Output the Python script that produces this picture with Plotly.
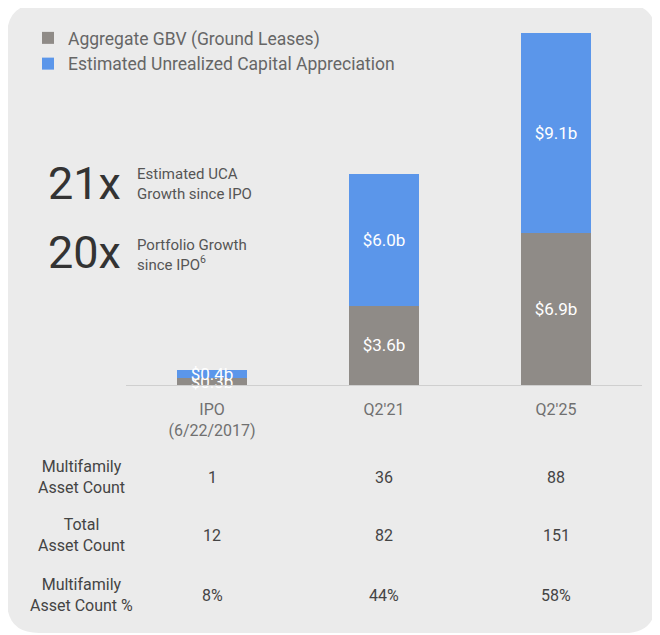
import plotly.graph_objects as go

# data
periods = ["IPO", "Q2'21", "Q2'25"]
period_labels = ["IPO<br>(6/22/2017)", "Q2'21", "Q2'25"]
gbv = [0.3, 3.6, 6.9]   # Aggregate GBV (Ground Leases), $b
uca = [0.4, 6.0, 9.1]   # Estimated Unrealized Capital Appreciation, $b

row_names = ["Multifamily<br>Asset Count", "Total<br>Asset Count", "Multifamily<br>Asset Count %"]
mf_count = ["1", "36", "88"]
total_count = ["12", "82", "151"]
mf_pct = ["8%", "44%", "58%"]
table_rows = [mf_count, total_count, mf_pct]

GRAY = "#8f8b87"
BLUE = "#5b96ea"
FONT = "Roboto"

# page draws the figure 8px in from the top-left, so page pixels are shifted
OFF = 8
W, H = 660, 635
L, R, T, B = 118, 26, 12, 258
pw, ph = W - L - R, H - T - B


def px_x(x):
    return (x - OFF - L) / pw


def px_y(y):
    return (H - B - (y - OFF)) / ph


def rounded_panel(x0, y0, x1, y1, r):
    rx, ry = r / pw, r / ph
    a0, a1 = px_x(x0), px_x(x1)
    b0, b1 = px_y(y1), px_y(y0)  # bottom, top in paper
    return (f"M{a0 + rx},{b1} L{a1 - rx},{b1} Q{a1},{b1} {a1},{b1 - ry} "
            f"L{a1},{b0 + ry} Q{a1},{b0} {a1 - rx},{b0} "
            f"L{a0 + rx},{b0} Q{a0},{b0} {a0},{b0 + ry} "
            f"L{a0},{b1 - ry} Q{a0},{b1} {a0 + rx},{b1} Z")


fig = go.Figure()
fig.add_trace(go.Bar(
    x=periods, y=gbv, name="Aggregate GBV (Ground Leases)",
    marker=dict(color=GRAY, line=dict(width=0)),
    text=[f"${v:.1f}b" for v in gbv], textposition="inside",
    insidetextanchor="middle", textfont=dict(color="white", size=17, family=FONT),
))
fig.add_trace(go.Bar(
    x=periods, y=uca, name="Estimated Unrealized Capital Appreciation",
    marker=dict(color=BLUE, line=dict(width=0)),
    text=[f"${v:.1f}b" for v in uca], textposition="inside",
    insidetextanchor="middle", textfont=dict(color="white", size=17, family=FONT),
))

fig.add_shape(type="path", xref="paper", yref="paper", layer="below",
              path=rounded_panel(7, 4, 656, 633, 32),
              fillcolor="#ebebeb", line=dict(width=0))

# headline multiples
fig.add_annotation(x=px_x(46), y=px_y(183), xref="paper", yref="paper", text="21x",
                   showarrow=False, xanchor="left", yanchor="middle",
                   font=dict(size=45, color="#333333", family=FONT))
fig.add_annotation(x=px_x(135), y=px_y(184), xref="paper", yref="paper",
                   text="Estimated UCA<br>Growth since IPO", align="left",
                   showarrow=False, xanchor="left", yanchor="middle",
                   font=dict(size=15, color="#555555", family=FONT))
fig.add_annotation(x=px_x(46), y=px_y(253), xref="paper", yref="paper", text="20x",
                   showarrow=False, xanchor="left", yanchor="middle",
                   font=dict(size=45, color="#333333", family=FONT))
fig.add_annotation(x=px_x(135), y=px_y(255), xref="paper", yref="paper",
                   text="Portfolio Growth<br>since IPO<sup>6</sup>", align="left",
                   showarrow=False, xanchor="left", yanchor="middle",
                   font=dict(size=15, color="#555555", family=FONT))

# table below the chart
row_y = [477, 535, 595]
for name, vals, yy in zip(row_names, table_rows, row_y):
    fig.add_annotation(x=px_x(81), y=px_y(yy), xref="paper", yref="paper", text=name,
                       showarrow=False, xanchor="center", yanchor="middle",
                       font=dict(size=16, color="#444444", family=FONT))
    for p, v in zip(periods, vals):
        fig.add_annotation(x=p, y=px_y(yy), xref="x", yref="paper", text=v,
                           showarrow=False, xanchor="center", yanchor="middle",
                           font=dict(size=16, color="#444444", family=FONT))

fig.update_layout(
    width=W, height=H,
    margin=dict(l=L, r=R, t=T, b=B),
    barmode="stack", bargap=0.593,
    paper_bgcolor="white", plot_bgcolor="rgba(0,0,0,0)",
    legend=dict(x=px_x(28), y=px_y(20), xanchor="left", yanchor="top",
                traceorder="normal", bgcolor="rgba(0,0,0,0)",
                font=dict(size=17.5, color="#666666", family=FONT),
                itemwidth=30, tracegroupgap=0),
    font=dict(family=FONT),
    xaxis=dict(tickvals=periods, ticktext=period_labels, range=[-0.5, 2.5],
               showline=True, linecolor="#cfcfcf", linewidth=1,
               showgrid=False, ticks="", ticklabelstandoff=10,
               tickfont=dict(size=16, color="#707070", family=FONT)),
    yaxis=dict(range=[0, 16.6], visible=False, showgrid=False, zeroline=False),
)
fig.update_traces(constraintext="none", cliponaxis=False)

fig.write_html("out.html")
